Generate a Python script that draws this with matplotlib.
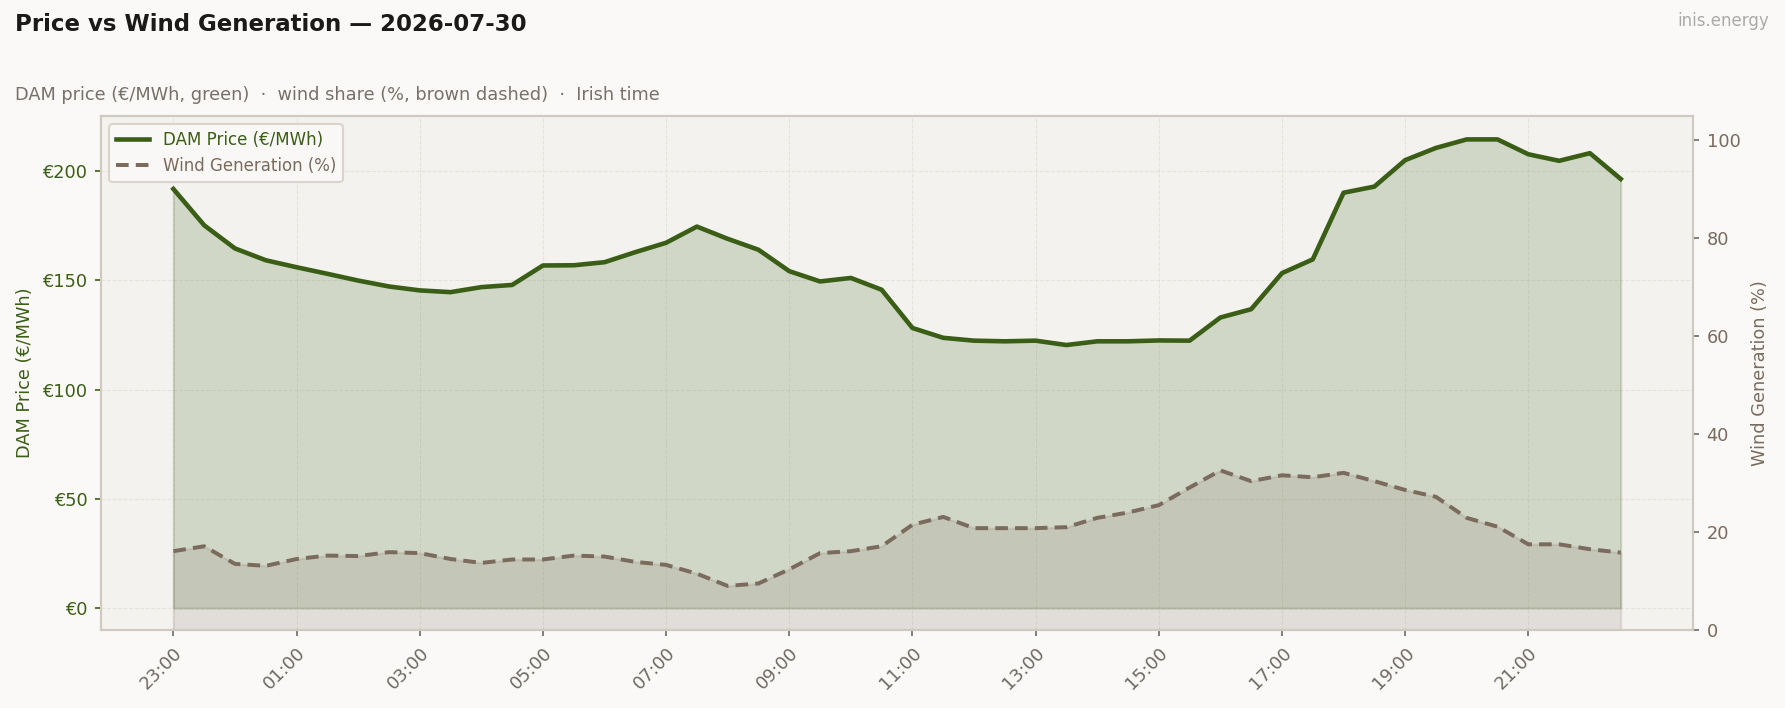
import numpy as np
import pandas as pd
import matplotlib
matplotlib.use("Agg")
import matplotlib.pyplot as plt
import matplotlib.dates as mdates

# half-hourly DAM prices (EUR/MWh) and wind share (%), Irish time
times = pd.date_range("2026-07-29 23:00", "2026-07-30 22:30", freq="30min")

price = [191.8, 175.2, 164.6, 159.2, 156.0, 153.0, 149.9, 147.2, 145.4, 144.6,
         146.9, 147.9, 156.8, 156.9, 158.3, 162.9, 167.2, 174.6, 169.0, 164.0,
         154.2, 149.5, 151.1, 145.7, 128.2, 123.7, 122.4, 122.1, 122.4, 120.4,
         122.1, 122.1, 122.5, 122.4, 133.0, 136.8, 153.3, 159.6, 190.1, 192.9,
         205.0, 210.6, 214.5, 214.5, 207.7, 204.7, 208.2, 196.4]

wind = [16.1, 17.1, 13.5, 13.1, 14.5, 15.2, 15.1, 15.9, 15.7, 14.5,
        13.7, 14.4, 14.4, 15.2, 15.0, 13.9, 13.3, 11.5, 9.0, 9.5,
        12.4, 15.7, 16.1, 17.1, 21.5, 23.1, 20.8, 20.8, 20.8, 21.0,
        22.9, 24.0, 25.5, 29.1, 32.6, 30.4, 31.6, 31.2, 32.1, 30.4,
        28.6, 27.2, 22.9, 21.1, 17.5, 17.5, 16.5, 15.8]

green = "#3b5e17"
brown = "#7b6b5d"
grey = "#6e6a64"
bg = "#faf9f7"

fig = plt.figure(figsize=(11.9, 4.72), dpi=150, facecolor=bg)
ax = fig.add_axes([0.0566, 0.1102, 0.8919, 0.726])
ax.set_facecolor("#f3f2ee")
ax2 = ax.twinx()

ax.fill_between(times, price, 0, color=green, alpha=0.18, zorder=1)
ax.plot(times, price, color=green, lw=2.2, label="DAM Price (€/MWh)", zorder=3)

ax2.fill_between(times, wind, 0, color=brown, alpha=0.15, zorder=1)
ax2.plot(times, wind, color=brown, lw=1.9, ls=(0, (3.2, 1.8)), label="Wind Generation (%)", zorder=3)

ax.set_ylim(-10, max(price) * 1.05)
ax2.set_ylim(0, 105)

ax.yaxis.set_major_locator(plt.MultipleLocator(50))
ax.yaxis.set_major_formatter(plt.FuncFormatter(lambda v, p: f"€{v:.0f}"))
ax2.yaxis.set_major_locator(plt.MultipleLocator(20))

# a tick every two hours, from the first slot
ax.set_xticks(times[::4])
ax.xaxis.set_major_formatter(mdates.DateFormatter("%H:%M"))
plt.setp(ax.get_xticklabels(), rotation=45, ha="right", rotation_mode="anchor")

ax.grid(True, ls="--", lw=0.5, color="#dcd8d0", alpha=0.6)
ax.set_axisbelow(True)

ax.tick_params(axis="y", colors=green, labelsize=8.5, length=3)
ax.tick_params(axis="x", colors=grey, labelsize=8.5, length=3)
ax2.tick_params(axis="y", colors=grey, labelcolor=brown, labelsize=8.5, length=3)

ax.set_ylabel("DAM Price (€/MWh)", color=green, fontsize=8.5)
ax2.set_ylabel("Wind Generation (%)", color=brown, fontsize=8.5, labelpad=5)

for a in (ax, ax2):
    for s in a.spines.values():
        s.set_color("#cfc9bf")
        s.set_linewidth(1.0)

h1, l1 = ax.get_legend_handles_labels()
h2, l2 = ax2.get_legend_handles_labels()
leg = ax2.legend(h1 + h2, l1 + l2, loc="upper left", fontsize=8,
                 facecolor=bg, edgecolor="#d6d1c8", framealpha=0.9)
leg.get_texts()[0].set_color(green)
leg.get_texts()[1].set_color(brown)

fig.text(0.0084, 0.965, "Price vs Wind Generation — 2026-07-30", fontsize=11,
         fontweight="bold", color="#1c1a18", va="center", ha="left")
fig.text(0.0084, 0.866, "DAM price (€/MWh, green)  ·  wind share (%, brown dashed)  ·  Irish time",
         fontsize=8.5, color="#77716b", va="center", ha="left")
fig.text(0.991, 0.97, "inis.energy", fontsize=8, color="#aaaaaa", va="center", ha="right")

fig.savefig("out.png", dpi=150, facecolor=bg)
